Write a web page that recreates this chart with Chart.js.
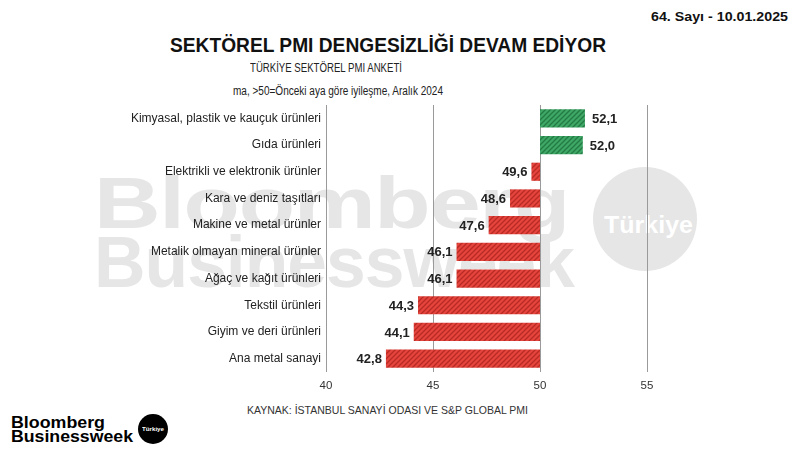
<!DOCTYPE html>
<html><head><meta charset="utf-8">
<script src="https://cdn.jsdelivr.net/npm/chart.js@4/dist/chart.umd.min.js"></script>
<style>
html,body{margin:0;padding:0;background:#fff;}
#wrap{position:relative;width:800px;height:450px;overflow:hidden;font-family:"Liberation Sans",Arial,sans-serif;color:#111;}
.t{position:absolute;white-space:nowrap;transform-origin:left top;line-height:1;}
#c{position:absolute;left:0;top:0;z-index:2;}
.wm{z-index:1;}
</style></head>
<body><div id="wrap">
<div class="t wm" id="wm1" style="left:94px;top:167px;font-size:72px;font-weight:bold;color:#e6e6e6;letter-spacing:-1px;" data-w="475">Bloomberg</div>
<div class="t wm" id="wm2" style="left:94px;top:226px;font-size:72px;font-weight:bold;color:#e6e6e6;letter-spacing:-1px;" data-w="480">Businessweek</div>
<div class="wm" style="position:absolute;left:593px;top:167px;width:104px;height:104px;border-radius:50%;background:#e6e6e6;"></div>
<div class="t wm" id="wm3" style="left:604px;top:213px;font-size:24px;font-weight:bold;color:#fff;" data-w="89">Türkiye</div>
<div class="t" id="date" style="left:651px;top:10px;font-size:13px;font-weight:bold;" data-w="137">64. Sayı - 10.01.2025</div>
<div class="t" id="title" style="left:170px;top:35px;font-size:20px;font-weight:bold;" data-w="436">SEKTÖREL PMI DENGESİZLİĞİ DEVAM EDİYOR</div>
<div class="t" id="sub1" style="left:250px;top:62px;font-size:12.5px;color:#222;" data-w="152">TÜRKİYE SEKTÖREL PMI ANKETİ</div>
<div class="t" id="sub2" style="left:233px;top:85px;font-size:12.5px;color:#222;" data-w="210">ma, &gt;50=Önceki aya göre iyileşme, Aralık 2024</div>
<div class="t" id="src" style="left:247px;top:405px;font-size:11px;color:#333;" data-w="281">KAYNAK: İSTANBUL SANAYİ ODASI VE S&amp;P GLOBAL PMI</div>
<div class="t" id="lg1" style="left:11px;top:414px;font-size:16.5px;font-weight:bold;color:#000;" data-w="94">Bloomberg</div>
<div class="t" id="lg2" style="left:11px;top:428px;font-size:16.5px;font-weight:bold;color:#000;" data-w="122">Businessweek</div>
<div style="position:absolute;left:138px;top:414px;width:30px;height:30px;border-radius:50%;background:#000;"></div>
<div class="t" id="lg3" style="left:142px;top:426px;font-size:6px;font-weight:bold;color:#fff;" data-w="22">Türkiye</div>
<canvas id="c" width="800" height="450"></canvas>
</div>
<script>
const categories = ["Kimyasal, plastik ve kauçuk ürünleri","Gıda ürünleri","Elektrikli ve elektronik ürünler","Kara ve deniz taşıtları","Makine ve metal ürünler","Metalik olmayan mineral ürünler","Ağaç ve kağıt ürünleri","Tekstil ürünleri","Giyim ve deri ürünleri","Ana metal sanayi"];
const values = [52.1,52.0,49.6,48.6,47.6,46.1,46.1,44.3,44.1,42.8];
const baseline = 50;
const xTicks = [40,45,50,55];

document.querySelectorAll('.t[data-w]').forEach(el=>{
  const w = el.getBoundingClientRect().width;
  const target = +el.dataset.w;
  el.style.transform = 'scaleX(' + (target/w) + ')';
});

function hatch(base, stripe){
  const p = document.createElement('canvas');
  p.width = 5; p.height = 5;
  const g = p.getContext('2d');
  g.fillStyle = base; g.fillRect(0,0,5,5);
  g.strokeStyle = stripe; g.lineWidth = 1.3;
  g.beginPath();
  g.moveTo(-1,6); g.lineTo(6,-1);
  g.moveTo(-1,1); g.lineTo(1,-1);
  g.moveTo(4,6); g.lineTo(6,4);
  g.stroke();
  return g.createPattern(p,'repeat');
}
const ctx = document.getElementById('c').getContext('2d');
const redP = hatch('#e5453d','#b82a24');
const greenP = hatch('#3fa866','#237a45');

const labelPlugin = {
  id:'vals',
  afterDatasetsDraw(chart){
    const c = chart.ctx;
    const meta = chart.getDatasetMeta(0);
    c.save();
    c.font = 'bold 13px "Liberation Sans", Arial, sans-serif';
    c.fillStyle = '#222';
    c.textBaseline = 'middle';
    meta.data.forEach((el,i)=>{
      const v = values[i];
      const s = v.toFixed(1).replace('.',',');
      const lo = Math.min(el.x, el.base), hi = Math.max(el.x, el.base);
      if (v >= baseline){ c.textAlign='left'; c.fillText(s, hi+7, el.y+1); }
      else { c.textAlign='right'; c.fillText(s, lo-4, el.y+1); }
    });
    c.restore();
  }
};

new Chart(ctx,{
  type:'bar',
  data:{
    labels:categories,
    datasets:[{
      data: values.map(v=>[baseline,v]),
      backgroundColor: values.map(v=> v>=baseline ? greenP : redP),
      borderWidth:0,
      barPercentage:0.68,
      categoryPercentage:1
    }]
  },
  options:{
    indexAxis:'y',
    responsive:false,
    animation:false,
    layout:{padding:{top:105,right:153,bottom:54,left:0}},
    plugins:{legend:{display:false},tooltip:{enabled:false}},
    scales:{
      x:{
        min:40,max:55,
        afterBuildTicks(s){ s.ticks = xTicks.map(v=>({value:v})); },
        afterFit(s){ s.height = 24; },
        grid:{color:'#9a9a9a',lineWidth:1,drawTicks:false},
        border:{display:false},
        ticks:{padding:7,color:'#333',font:{size:11.5,family:'"Liberation Sans", Arial, sans-serif'}}
      },
      y:{
        afterFit(s){ s.width = 326; },
        grid:{display:false},
        border:{display:false},
        ticks:{padding:-3,color:'#222',font:{size:12,family:'"Liberation Sans", Arial, sans-serif'}}
      }
    }
  },
  plugins:[labelPlugin]
});
</script>
</body></html>
